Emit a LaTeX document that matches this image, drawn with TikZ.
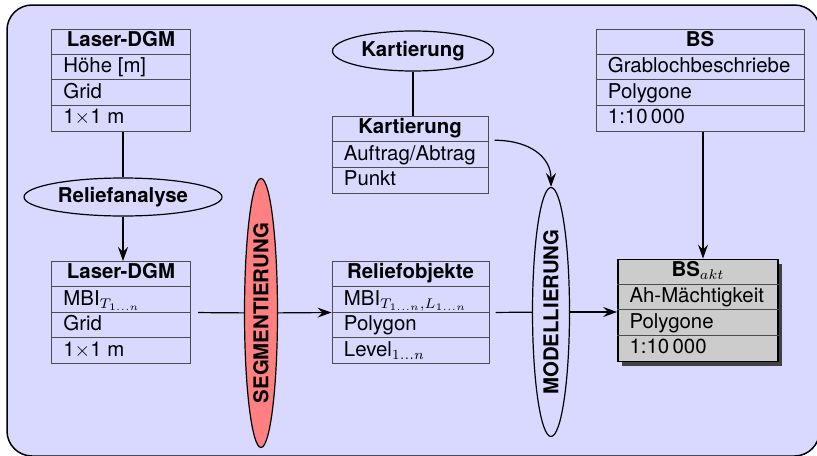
\documentclass[tikz,border=0pt]{standalone}
\usepackage{fontspec}
\setmainfont{TeX Gyre Heros}
\usetikzlibrary{shapes.geometric,calc,arrows.meta,shadows}
\newcommand\boxtitle[2]{\node[titletxt, anchor=base] (#1-t) at ($(#1.north)+(0,17.5)$) {#2};}
\newcommand\boxrow[3]{\draw[div] ($(#1.north west)+(0,#2*25.5)$) -- ($(#1.north east)+(0,#2*25.5)$);
  \node[rowtxt, anchor=base west] (#1-r#2) at ($(#1.north west)+(12,#2*25.5+18.5)$) {#3};}
\begin{document}
\begin{tikzpicture}[x=0.5pt,y=-0.5pt,
  frame/.style={draw=black, line width=0.75pt, fill=blue!15, rounded corners=12.5pt},
  umlbox/.style={draw=black!70, line width=0.5pt, minimum height=51pt, inner sep=0pt},
  div/.style={draw=black!70, line width=0.5pt},
  rowtxt/.style={font=\fontsize{10.2}{12}\selectfont, inner sep=0pt},
  titletxt/.style={font=\fontsize{10.2}{12}\selectfont\bfseries, inner sep=0pt},
  ell/.style={ellipse, draw=black, line width=0.6pt, inner sep=0pt, font=\fontsize{10.2}{12}\selectfont\bfseries},
  conn/.style={line width=0.6pt},
  arr/.style={conn, -{Stealth[length=7pt,width=5pt,inset=2.5pt]}}]
\useasboundingbox (0,0) rectangle (817,455);
\draw[frame] (7,5) rectangle (819.5,456);

% boxes
\node[umlbox, minimum width=69.5pt] (dgmA) at (121,80) {};
\boxtitle{dgmA}{Laser-DGM}
\boxrow{dgmA}{1}{Höhe [m]}
\boxrow{dgmA}{2}{Grid}
\boxrow{dgmA}{3}{1$\times$1 m}

\node[umlbox, minimum width=69.5pt] (dgmB) at (121,312.5) {};
\boxtitle{dgmB}{Laser-DGM}
\boxrow{dgmB}{1}{MBI$_{T_{1\ldots n}}$}
\boxrow{dgmB}{2}{Grid}
\boxrow{dgmB}{3}{1$\times$1 m}

\node[umlbox, minimum width=78.5pt] (relief) at (410.5,312.5) {};
\boxtitle{relief}{Reliefobjekte}
\boxrow{relief}{1}{MBI$_{T_{1\ldots n},L_{1\ldots n}}$}
\boxrow{relief}{2}{Polygon}
\boxrow{relief}{3}{Level$_{1\ldots n}$}

\node[umlbox, minimum width=78pt, minimum height=38.25pt] (kart) at (410,155) {};
\boxtitle{kart}{Kartierung}
\boxrow{kart}{1}{Auftrag/Abtrag}
\boxrow{kart}{2}{Punkt}

\node[umlbox, minimum width=104pt] (bs) at (700,80) {};
\boxtitle{bs}{BS}
\boxrow{bs}{1}{Grablochbeschriebe}
\boxrow{bs}{2}{Polygone}
\boxrow{bs}{3}{1:10\,000}

\node[umlbox, draw=black, line width=0.9pt, fill=black!20, minimum width=80pt,
  drop shadow={shadow xshift=2pt, shadow yshift=-2pt, fill=black!75, opacity=1}] (bsakt) at (698,310.5) {};
\boxtitle{bsakt}{BS$_{akt}$}
\boxrow{bsakt}{1}{Ah-Mächtigkeit}
\boxrow{bsakt}{2}{Polygone}
\boxrow{bsakt}{3}{1:10\,000}

% ellipses
\node[ell, minimum width=99pt, minimum height=19pt] (ana) at (123,197) {Reliefanalyse};
\node[ell, minimum width=80.5pt, minimum height=20pt] (kell) at (413,51) {Kartierung};
\node[ell, fill=red!50, rotate=90, minimum width=134.5pt, minimum height=16.5pt] (seg) at (261,313) {SEGMENTIERUNG};
\node[ell, rotate=90, minimum width=124.5pt, minimum height=18.5pt] (mod) at (551,312) {MODELLIERUNG};

% connectors
\draw[conn] (ana.north) -- (ana.north |- dgmA.south);
\draw[arr] (ana.south) -- (ana.south |- dgmB.north);
\draw[conn] (kell.south) -- (kell.south |- kart.north);
\draw[conn, shorten <=3.5pt] (dgmB.east) -- (seg);
\draw[arr] (seg) -- (relief.west);
\draw[conn, shorten <=3pt] (relief.east) -- (mod);
\draw[arr] (mod.south) -- (mod.south -| bsakt.west);
\coordinate (kout) at ($(kart.north east)+(6,24)$);
\draw[arr] (kout) .. controls +(35,0) and +(0,-30) .. (mod.east);
\coordinate (bsout) at ($(bs.south)+(3,0)$);
\draw[arr] (bsout) -- (bsout |- bsakt.north);
\end{tikzpicture}
\end{document}
